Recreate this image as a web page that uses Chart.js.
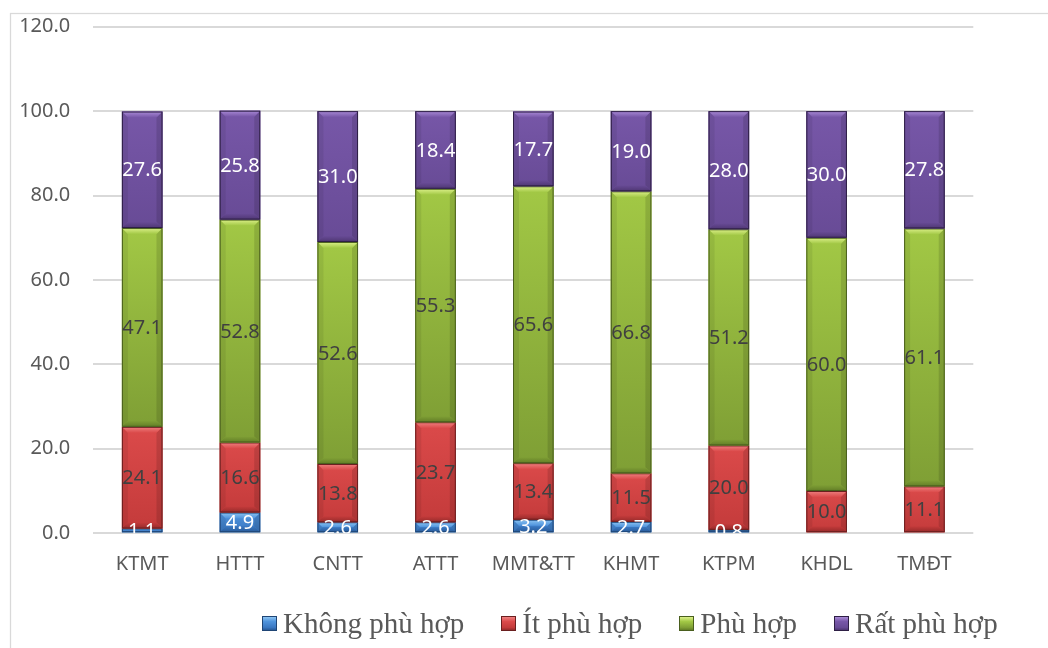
<!DOCTYPE html>
<html lang="vi">
<head>
<meta charset="utf-8">
<title>Mức độ phù hợp theo ngành</title>
<script src="https://cdn.jsdelivr.net/npm/chart.js@4.4.1/dist/chart.umd.min.js"></script>
<style>
  html, body { margin: 0; padding: 0; background: #ffffff; }
  #wrap { position: relative; width: 1048px; height: 648px; overflow: hidden; }
  #chart { position: absolute; left: 0; top: 0; }
  #legend {
    position: absolute; left: 262px; top: 605px; height: 36px;
    display: flex; align-items: center; white-space: nowrap;
    font-family: "Liberation Serif", "Times New Roman", serif;
    font-size: 29px; line-height: 36px; color: #595959;
  }
  #legend .item { display: flex; align-items: center; margin-right: 37px; }
  #legend .box {
    width: 13px; height: 13px; margin-right: 6px; border: 1px solid;
    box-sizing: content-box;
  }
</style>
</head>
<body>
<div id="wrap">
  <canvas id="chart" width="1048" height="648"></canvas>
  <div id="legend"></div>
</div>
<script>
// Ngành đào tạo
const categories = ['KTMT', 'HTTT', 'CNTT', 'ATTT', 'MMT&TT', 'KHMT', 'KTPM', 'KHDL', 'TMĐT'];

// Tỷ lệ (%) theo mức độ phù hợp
const khongPhuHop = [1.1, 4.9, 2.6, 2.6, 3.2, 2.7, 0.8, 0, 0];
const itPhuHop    = [24.1, 16.6, 13.8, 23.7, 13.4, 11.5, 20.0, 10.0, 11.1];
const phuHop      = [47.1, 52.8, 52.6, 55.3, 65.6, 66.8, 51.2, 60.0, 61.1];
const ratPhuHop   = [27.6, 25.8, 31.0, 18.4, 17.7, 19.0, 28.0, 30.0, 27.8];

const seriesNames = ['Không phù hợp', 'Ít phù hợp', 'Phù hợp', 'Rất phù hợp'];

// Trục tung: 0 – 120, bước 20
const yMin = 0, yMax = 120, yStep = 20;

// Bảng màu cho hiệu ứng nổi khối của từng chuỗi
const palettes = [
  { light: '#8cc4f2', bodyTop: '#4f93dc', bodyBottom: '#3a78c2', dark: '#285a98', edge: '#1f4575', label: '#ffffff' },
  { light: '#ee8080', bodyTop: '#db4a4a', bodyBottom: '#c43b3b', dark: '#952a2a', edge: '#6a1f1f', label: '#404040' },
  { light: '#dcf08a', bodyTop: '#a2c845', bodyBottom: '#7f9f35', dark: '#627d27', edge: '#4a5f1e', label: '#404040' },
  { light: '#a98ad6', bodyTop: '#7757a8', bodyBottom: '#684b96', dark: '#4e3672', edge: '#2e1f45', label: '#ffffff' }
];

const seriesData = [khongPhuHop, itPhuHop, phuHop, ratPhuHop];

const datasets = seriesData.map((values, i) => ({
  label: seriesNames[i],
  data: values,
  backgroundColor: palettes[i].bodyTop,
  borderWidth: 0,
  stack: 'all',
  categoryPercentage: 1,
  barPercentage: 0.415
}));

// Khung viền nhạt quanh vùng biểu đồ
const framePlugin = {
  id: 'frame',
  beforeDraw(chart) {
    const ctx = chart.ctx;
    ctx.save();
    ctx.strokeStyle = '#d9d9d9';
    ctx.lineWidth = 1.25;
    ctx.strokeRect(10.5, 13.5, 2000, 2000);
    ctx.restore();
  }
};

// Hiệu ứng vát cạnh cho từng đoạn cột, sau đó ghi nhãn giá trị
const bevelLabelPlugin = {
  id: 'bevelLabels',
  afterDatasetsDraw(chart) {
    const ctx = chart.ctx;
    const area = chart.chartArea;

    chart.data.datasets.forEach((ds, di) => {
      const meta = chart.getDatasetMeta(di);
      const p = palettes[di];
      meta.data.forEach((el) => {
        const { x, y, base, width } = el.getProps(['x', 'y', 'base', 'width'], true);
        const left = x - width / 2, right = x + width / 2;
        const top = Math.min(y, base), bottom = Math.max(y, base);
        const h = bottom - top;
        if (h < 0.5) return;
        const b = Math.min(6, h / 2, width / 2);

        ctx.save();
        // thân cột
        const g = ctx.createLinearGradient(0, top, 0, bottom);
        g.addColorStop(0, p.bodyTop);
        g.addColorStop(1, p.bodyBottom);
        ctx.fillStyle = g;
        ctx.fillRect(left, top, width, h);

        // hai cạnh bên
        ctx.fillStyle = 'rgba(0,0,0,0.07)';
        ctx.beginPath();
        ctx.moveTo(left, top); ctx.lineTo(left + b, top + b);
        ctx.lineTo(left + b, bottom - b); ctx.lineTo(left, bottom);
        ctx.closePath(); ctx.fill();
        ctx.fillStyle = 'rgba(0,0,0,0.12)';
        ctx.beginPath();
        ctx.moveTo(right, top); ctx.lineTo(right - b, top + b);
        ctx.lineTo(right - b, bottom - b); ctx.lineTo(right, bottom);
        ctx.closePath(); ctx.fill();

        // mặt vát trên (sáng)
        const gt = ctx.createLinearGradient(0, top, 0, top + b);
        gt.addColorStop(0, p.light);
        gt.addColorStop(1, p.bodyTop);
        ctx.fillStyle = gt;
        ctx.beginPath();
        ctx.moveTo(left, top); ctx.lineTo(right, top);
        ctx.lineTo(right - b, top + b); ctx.lineTo(left + b, top + b);
        ctx.closePath(); ctx.fill();

        // mặt vát dưới (tối)
        const gb = ctx.createLinearGradient(0, bottom - b, 0, bottom);
        gb.addColorStop(0, p.bodyBottom);
        gb.addColorStop(1, p.dark);
        ctx.fillStyle = gb;
        ctx.beginPath();
        ctx.moveTo(left, bottom); ctx.lineTo(right, bottom);
        ctx.lineTo(right - b, bottom - b); ctx.lineTo(left + b, bottom - b);
        ctx.closePath(); ctx.fill();

        // viền
        ctx.strokeStyle = p.edge;
        ctx.lineWidth = 1;
        ctx.strokeRect(left + 0.5, top + 0.5, width - 1, h - 1);
        ctx.restore();
      });
    });

    // nhãn giá trị ở giữa mỗi đoạn
    ctx.save();
    ctx.beginPath();
    ctx.rect(area.left, area.top, area.right - area.left, area.bottom - area.top);
    ctx.clip();
    ctx.font = '20px "Noto Sans", sans-serif';
    ctx.textAlign = 'center';
    ctx.textBaseline = 'middle';
    chart.data.datasets.forEach((ds, di) => {
      const meta = chart.getDatasetMeta(di);
      ctx.fillStyle = palettes[di].label;
      meta.data.forEach((el, i) => {
        const v = ds.data[i];
        if (!v) return;
        const { x, y, base } = el.getProps(['x', 'y', 'base'], true);
        ctx.fillText(v.toFixed(1), x, (y + base) / 2 + 1);
      });
    });
    ctx.restore();
  }
};

const tickFont = { family: '"Noto Sans", sans-serif', size: 20 };

new Chart(document.getElementById('chart'), {
  type: 'bar',
  data: { labels: categories, datasets },
  options: {
    responsive: false,
    animation: false,
    layout: { padding: { left: 0, right: 74.7, top: 26.7, bottom: 0 } },
    plugins: {
      legend: { display: false },
      tooltip: { enabled: false }
    },
    scales: {
      x: {
        stacked: true,
        grid: { display: false, drawTicks: false },
        border: { display: false },
        ticks: { color: '#595959', font: tickFont, padding: 19, maxRotation: 0 },
        afterFit(scale) {
          scale.height = 114.8;
          scale.paddingLeft = 0;
          scale.paddingRight = 0;
        }
      },
      y: {
        stacked: true,
        min: yMin,
        max: yMax,
        grid: { color: '#d9d9d9', lineWidth: 2, drawTicks: false },
        border: { display: false },
        ticks: {
          stepSize: yStep,
          color: '#595959',
          font: tickFont,
          padding: 23,
          callback: (v) => Number(v).toFixed(1)
        },
        afterFit(scale) {
          scale.width = 93.3;
          scale.paddingTop = 0;
          scale.paddingBottom = 0;
        }
      }
    }
  },
  plugins: [framePlugin, bevelLabelPlugin]
});

// Chú giải
const legendEl = document.getElementById('legend');
seriesNames.forEach((name, i) => {
  const p = palettes[i];
  const item = document.createElement('div');
  item.className = 'item';
  const box = document.createElement('span');
  box.className = 'box';
  box.style.borderColor = p.edge;
  box.style.background = 'linear-gradient(to bottom, ' + p.light + ' 0%, ' + p.bodyTop + ' 35%, ' + p.bodyBottom + ' 80%, ' + p.dark + ' 100%)';
  const text = document.createElement('span');
  text.textContent = name;
  item.appendChild(box);
  item.appendChild(text);
  legendEl.appendChild(item);
});
</script>
</body>
</html>
